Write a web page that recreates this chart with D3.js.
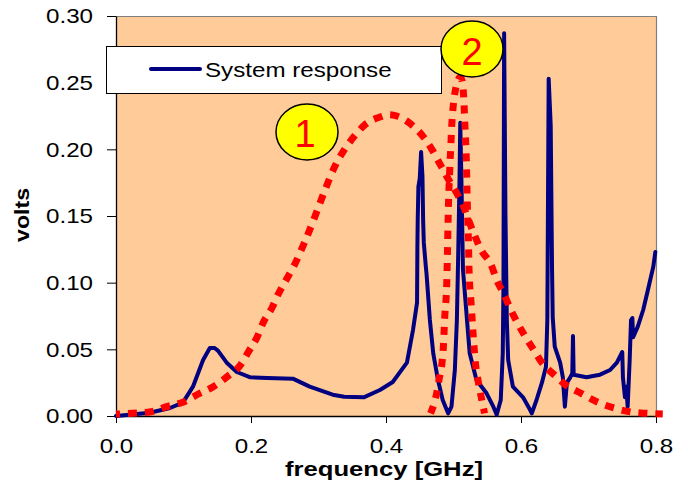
<!DOCTYPE html>
<html>
<head>
<meta charset="utf-8">
<script src="https://cdn.jsdelivr.net/npm/d3@7"></script>
<style>
  html, body { margin: 0; padding: 0; background: #ffffff; }
  svg { display: block; font-family: "Liberation Sans", Arial, sans-serif; }
</style>
</head>
<body>
<svg id="chart" width="688" height="483"></svg>
<script>
// ---- data ----
const xTicks = [0.0, 0.2, 0.4, 0.6, 0.8];
const yTicks = [0.00, 0.05, 0.10, 0.15, 0.20, 0.25, 0.30];

// System response (blue)
const blueFreq = [0, 0.05, 0.08, 0.099, 0.114, 0.129, 0.139, 0.146, 0.151, 0.164, 0.179, 0.199, 0.224, 0.262, 0.287, 0.321, 0.338, 0.367, 0.391, 0.41, 0.431, 0.44, 0.446,
  0.4465, 0.447, 0.448, 0.450, 0.452, 0.454, 0.455, 0.456, 0.459, 0.460, 0.465, 0.470, 0.477, 0.484, 0.492, 0.497, 0.502, 0.505, 0.507, 0.509, 0.510, 0.512, 0.514, 0.520, 0.524, 0.534, 0.549, 0.559, 0.564,
  0.570, 0.573, 0.574, 0.575, 0.577, 0.579, 0.581, 0.588, 0.603, 0.613, 0.616, 0.623, 0.631, 0.637, 0.639, 0.641, 0.644, 0.646, 0.647, 0.650, 0.658, 0.662, 0.665, 0.668, 0.673, 0.676, 0.677, 0.678,
  0.697, 0.717, 0.732, 0.742, 0.750, 0.751, 0.754, 0.756, 0.758, 0.761, 0.763, 0.765, 0.766, 0.773, 0.781, 0.788, 0.796, 0.799];
const blueVolts = [0, 0.0024, 0.006, 0.010, 0.022, 0.042, 0.051, 0.051, 0.049, 0.040, 0.033, 0.029, 0.0285, 0.028, 0.022, 0.016, 0.0145, 0.014, 0.0195, 0.0255, 0.040, 0.0645, 0.085,
  0.127, 0.147, 0.172, 0.178, 0.198, 0.180, 0.147, 0.130, 0.112, 0.107, 0.072, 0.047, 0.027, 0.012, 0.002, 0.007, 0.0345, 0.072, 0.122, 0.180, 0.220, 0.170, 0.110, 0.072, 0.047, 0.027, 0.017, 0.007, 0.001,
  0.012, 0.047, 0.097, 0.287, 0.150, 0.072, 0.042, 0.022, 0.014, 0.005, 0.002, 0.012, 0.025, 0.037, 0.072, 0.253, 0.218, 0.110, 0.074, 0.052, 0.040, 0.029, 0.007, 0.025, 0.029, 0.032, 0.060, 0.031,
  0.029, 0.031, 0.0345, 0.040, 0.048, 0.029, 0.014, 0.022, 0.007, 0.042, 0.072, 0.0735, 0.059, 0.067, 0.0795, 0.0945, 0.112, 0.123];

// Pulse 1 spectrum (red dotted, broad)
const pulse1Freq = [0, 0.025, 0.05, 0.075, 0.1, 0.122, 0.144, 0.166, 0.184, 0.196, 0.209, 0.218, 0.231, 0.24, 0.252, 0.264, 0.28, 0.295, 0.31, 0.325, 0.34, 0.355, 0.37, 0.39, 0.405, 0.416, 0.439, 0.456, 0.468, 0.481, 0.493, 0.505, 0.515, 0.523, 0.53, 0.541, 0.556, 0.564, 0.575, 0.585, 0.594, 0.607, 0.619, 0.631, 0.649, 0.667, 0.689, 0.713, 0.738, 0.763, 0.787, 0.81];
const pulse1Volts = [0.0015, 0.002, 0.003, 0.007, 0.0105, 0.0165, 0.022, 0.030, 0.038, 0.048, 0.059, 0.070, 0.081, 0.091, 0.102, 0.113, 0.131, 0.150, 0.170, 0.188, 0.201, 0.211, 0.219, 0.224, 0.226, 0.225, 0.218, 0.209, 0.200, 0.188, 0.177, 0.167, 0.157, 0.146, 0.137, 0.1245, 0.113, 0.102, 0.091, 0.0795, 0.0705, 0.059, 0.0495, 0.040, 0.031, 0.023, 0.017, 0.0105, 0.006, 0.003, 0.002, 0.0015];

// Pulse 2 spectrum (red dotted, narrow)
const pulse2Freq = [0.466, 0.468, 0.475, 0.479, 0.483, 0.485, 0.487, 0.490, 0.491, 0.492, 0.493, 0.494, 0.495, 0.496, 0.497, 0.499, 0.502, 0.506, 0.510, 0.513, 0.515, 0.517, 0.519, 0.520, 0.521, 0.522, 0.523, 0.526, 0.529, 0.532, 0.537, 0.544, 0.546];
const pulse2Volts = [0.002, 0.0045, 0.017, 0.0285, 0.040, 0.052, 0.074, 0.100, 0.122, 0.147, 0.167, 0.179, 0.192, 0.202, 0.214, 0.229, 0.242, 0.251, 0.254, 0.251, 0.240, 0.217, 0.192, 0.170, 0.149, 0.134, 0.110, 0.085, 0.062, 0.042, 0.025, 0.007, 0.002];

const legendLabel = "System response";
const xTitle = "frequency [GHz]";
const yTitle = "volts";
const markerLabels = ["1", "2"];

// ---- layout ----
const svg = d3.select("#chart");
const L = 116, R = 656, T = 16, B = 416;
const x = d3.scaleLinear().domain([0, 0.8]).range([L, R]);
const y = d3.scaleLinear().domain([0, 0.30]).range([B, T]);

function stretch(sel, k) {
  sel.each(function() {
    const w = this.getComputedTextLength();
    d3.select(this).attr("textLength", w * k).attr("lengthAdjust", "spacingAndGlyphs");
  });
}

// plot background
svg.append("rect").attr("x", L).attr("y", T).attr("width", R - L).attr("height", B - T)
  .attr("fill", "#FFCC99");
// top/right borders
svg.append("path").attr("d", `M${L},${T + 0.5}H${R + 0.5}V${B}`)
  .attr("fill", "none").attr("stroke", "#808080").attr("stroke-width", 1.2);

// axes
const yAxis = svg.append("g").attr("transform", `translate(${L},0)`)
  .call(d3.axisLeft(y).tickValues(yTicks).tickFormat(d3.format(".2f")).tickSize(9).tickSizeOuter(0).tickPadding(14));
const xAxis = svg.append("g").attr("transform", `translate(0,${B})`)
  .call(d3.axisBottom(x).tickValues(xTicks).tickFormat(d3.format(".1f")).tickSize(7).tickSizeOuter(0).tickPadding(15));
[yAxis, xAxis].forEach(a => {
  a.selectAll("path.domain").attr("stroke", "#000").attr("stroke-width", 1.3);
  a.selectAll(".tick line").attr("stroke", "#000").attr("stroke-width", 1);
  a.selectAll("text").attr("font-size", 21).attr("fill", "#000")
    .attr("font-family", "'Liberation Sans', Arial, sans-serif");
  stretch(a.selectAll("text"), 1.15);
});

// lines
const lineLinear = d3.line().x(d => x(d[0])).y(d => y(d[1]));
const lineSmooth = d3.line().x(d => x(d[0])).y(d => y(d[1])).curve(d3.curveMonotoneX);

svg.append("path").datum(d3.zip(blueFreq, blueVolts))
  .attr("d", lineLinear).attr("fill", "none").attr("stroke", "#000080")
  .attr("stroke-width", 4).attr("stroke-linejoin", "round").attr("stroke-linecap", "round");

svg.append("path").datum(d3.zip(pulse1Freq, pulse1Volts))
  .attr("d", lineSmooth).attr("fill", "none").attr("stroke", "#FF0000")
  .attr("stroke-width", 7).attr("stroke-dasharray", "9,8").attr("stroke-dashoffset", 5);

svg.append("path").datum(d3.zip(pulse2Freq, pulse2Volts))
  .attr("d", lineSmooth).attr("fill", "none").attr("stroke", "#FF0000")
  .attr("stroke-width", 7).attr("stroke-dasharray", "8,8");

// legend
svg.append("rect").attr("x", 106.5).attr("y", 46.5).attr("width", 335).attr("height", 47)
  .attr("fill", "#fff").attr("stroke", "#000").attr("stroke-width", 1);
svg.append("line").attr("x1", 151).attr("x2", 200).attr("y1", 69).attr("y2", 69)
  .attr("stroke", "#000080").attr("stroke-width", 4).attr("stroke-linecap", "round");
const lt = svg.append("text").attr("x", 205).attr("y", 77).attr("font-size", 21).text(legendLabel);
stretch(lt, 1.15);

// markers
const markers = [{cx: 307, cy: 132, tx: 305, ty: 147}, {cx: 472, cy: 49, tx: 472, ty: 65}];
markers.forEach((m, i) => {
  svg.append("ellipse").attr("cx", m.cx).attr("cy", m.cy).attr("rx", 31).attr("ry", 28)
    .attr("fill", "#FFFF00").attr("stroke", "#000").attr("stroke-width", 1.5);
  svg.append("text").attr("x", m.tx).attr("y", m.ty).attr("text-anchor", "middle")
    .attr("font-size", 38).attr("fill", "#FF0000").text(markerLabels[i]);
});

// titles
const xt = svg.append("text").attr("x", 384).attr("y", 476).attr("text-anchor", "middle")
  .attr("font-size", 20).attr("font-weight", "bold").text(xTitle);
xt.attr("textLength", 198).attr("lengthAdjust", "spacingAndGlyphs");
const yt = svg.append("text").attr("transform", "translate(29,215) rotate(-90)").attr("text-anchor", "middle")
  .attr("font-size", 20).attr("font-weight", "bold").text(yTitle);
yt.attr("textLength", 54).attr("lengthAdjust", "spacingAndGlyphs");
</script>
</body>
</html>
